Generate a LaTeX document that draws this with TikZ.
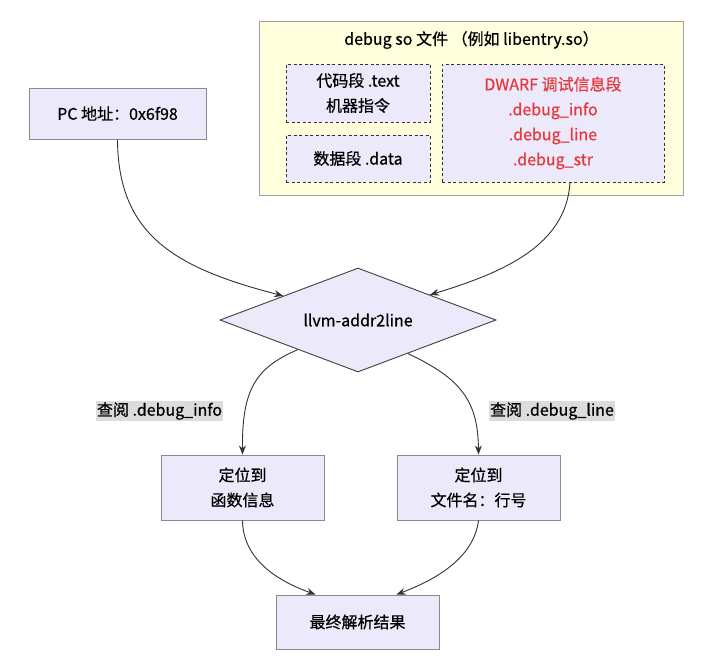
\documentclass[tikz,border=0pt]{standalone}
\usepackage{fontspec}
\setmainfont{Noto Sans CJK SC}[FakeBold=0.6]
\usetikzlibrary{shapes.geometric,arrows.meta,calc}
\definecolor{nodefill}{HTML}{ECE9FA}
\definecolor{nodeline}{HTML}{8A8A8A}
\definecolor{grpfill}{HTML}{FFFFDE}
\definecolor{grpline}{HTML}{A0A0A0}
\definecolor{dwarfred}{HTML}{E5383B}
\definecolor{lblbg}{HTML}{DCDCDC}
\definecolor{edgecol}{HTML}{333333}
\tikzset{
  txt/.style={font=\fontsize{16}{25}\selectfont, align=center, text=black},
  grpbox/.style={draw=grpline, fill=grpfill, line width=1pt},
  subbox/.style={txt, draw=black!80, fill=nodefill, line width=0.9pt, dash pattern=on 3pt off 2.5pt, inner sep=0pt},
  procbox/.style={txt, draw=nodeline, fill=nodefill, line width=1pt, inner sep=0pt},
  decbox/.style={txt, diamond, draw=black!75, fill=nodefill, line width=0.9pt, inner sep=0pt, aspect=2.65},
  edgelbl/.style={txt, fill=lblbg, inner sep=1pt},
  conn/.style={draw=edgecol, line width=0.9pt, -{Stealth[length=9pt,width=7pt]}},
}
\begin{document}
\begin{tikzpicture}[x=1pt,y=-1pt]
\useasboundingbox (0,0) rectangle (715,667);
\fill[white] (0,0) rectangle (715,667);
% group
\node[grpbox, minimum width=424pt, minimum height=174pt, inner sep=0pt] (grp) at (471.5,108) {};
\node[txt] (grptitle) at (471.5,40) {debug so 文件 （例如 libentry.so）};
\node[subbox, minimum width=144pt, minimum height=58pt] (code) at (358,93) {代码段 .text\\机器指令};
\node[subbox, minimum width=144pt, minimum height=47pt] (data) at (358,158.5) {数据段 .data};
\node[subbox, minimum width=222pt, minimum height=118pt, text=dwarfred] (dwarf) at (553,123) {DWARF 调试信息段\\.debug\_info\\.debug\_line\\.debug\_str};
% PC
\node[procbox, minimum width=177pt, minimum height=51pt] (pc) at (117.5,113.5) {PC 地址：0x6f98};
% diamond
\node[decbox, minimum width=276pt, minimum height=104pt] (dia) at (358,320) {llvm-addr2line};
% result boxes
\node[procbox, minimum width=163pt, minimum height=65pt] (func) at (242.5,487.5) {定位到\\函数信息};
\node[procbox, minimum width=163pt, minimum height=65pt] (file) at (478.5,487.5) {定位到\\文件名：行号};
\node[procbox, minimum width=163pt, minimum height=54pt] (final) at (357.5,622) {最终解析结果};
% edge labels
\node[edgelbl] (lbl1) at (159.5,411) {查阅 .debug\_info};
\node[edgelbl] (lbl2) at (552,411) {查阅 .debug\_line};
% coordinates
\coordinate (pcin) at ($(dia.west)!0.46!(dia.north)$);
\coordinate (dwin) at ($(dia.east)!0.48!(dia.north)$);
\coordinate (dwout) at ([xshift=17pt]dwarf.south);
\coordinate (dl) at ($(dia.west)!0.565!(dia.south)$);
\coordinate (dr) at ($(dia.east)!0.64!(dia.south)$);
\coordinate (fin1) at ([xshift=-42pt]final.north);
\coordinate (fin2) at ([xshift=39pt]final.north);
% connectors
\draw[conn] (pc.south) .. controls (118,235) and (175,268) .. (pcin);
\draw[conn] (dwout) .. controls (566,245) and (505,272) .. (dwin);
\draw[conn] (dl) .. controls (255,368) and (242,390) .. (func.north);
\draw[conn] (dr) .. controls (460,378) and (478,400) .. (file.north);
\draw[conn] (func.south) .. controls (243,558) and (275,580) .. (fin1);
\draw[conn] (file.south) .. controls (474,556) and (440,578) .. (fin2);
\end{tikzpicture}
\end{document}
